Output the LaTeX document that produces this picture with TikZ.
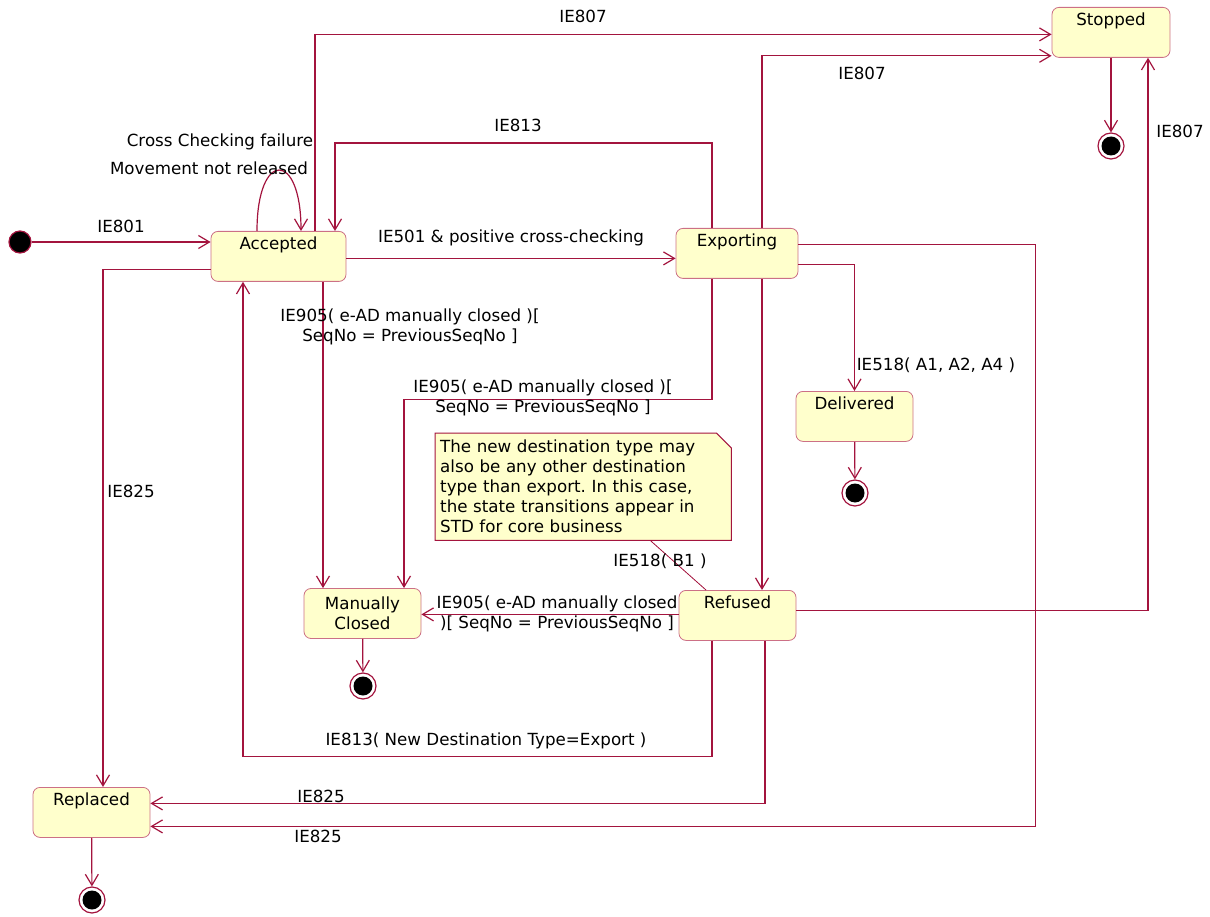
\documentclass[tikz,border=0pt]{standalone}
\usepackage{fontspec}
\setmainfont{DejaVu Sans}
\usepackage{xcolor}
\usetikzlibrary{arrows.meta,positioning,backgrounds}
\definecolor{umlred}{RGB}{163,20,62}
\definecolor{umlfill}{RGB}{255,255,204}
\definecolor{umlbd}{RGB}{204,112,134}
\frenchspacing
\begin{document}
\begin{tikzpicture}[x=1pt,y=-1pt, every node/.style={font=\fontsize{16.7}{20}\selectfont}, stbox/.style={draw=umlbd,fill=umlfill,rounded corners=7pt,anchor=north,minimum width=117pt,text height=12.4pt,text depth=25.6pt,inner ysep=6pt,line width=0.8pt}, arr/.style={-{Straight Barb[length=11pt,width=13pt]},umlred,line width=1.2pt}, endst/.style={circle,draw=umlred,fill=white,line width=1.2pt,minimum size=26pt,inner sep=0pt,path picture={\fill[black] (path picture bounding box.center) circle (9.5pt);}}, lbl/.style={inner sep=1pt}]
\useasboundingbox (0,0) rectangle (1210,917);
% states
\node[circle,fill=black,draw=umlred,line width=1.2pt,minimum size=22pt,inner sep=0pt] (init) at (20,242) {};
\node[stbox,minimum width=135pt] (acc) at (278.5,231) {Accepted};
\node[stbox,minimum width=122pt] (exp) at (737,228) {Exporting};
\node[stbox,minimum width=118pt] (stop) at (1111,7) {Stopped};
\node[stbox] (deliv) at (854.5,391) {Delivered};
\node[stbox,anchor=center,text height=,text depth=,minimum height=50pt,align=center] (mc) at (362.5,613.5) {Manually\\Closed};
\node[stbox] (ref) at (737.5,590) {Refused};
\node[stbox] (repl) at (91.5,787) {Replaced};
\node[endst] (fin1) at (1111,146) {}; \node[endst] (fin2) at (855,493) {}; \node[endst] (fin3) at (363,686) {}; \node[endst] (fin4) at (92,900) {};
% note
\node[anchor=north west,text width=286pt,align=left,inner xsep=5pt,inner ysep=4pt,minimum height=107pt] (note) at (435,433) {The new destination type may\\also be any other destination\\type than export. In this case,\\the state transitions appear in\\STD for core business};
\begin{scope}[on background layer]
\draw[umlred,fill=umlfill,line width=1pt] (note.north west) -- ([xshift=-15pt]note.north east) -- ([yshift=-15pt]note.north east) -- (note.south east) -- (note.south west) -- cycle;
\end{scope}
\draw[umlred,line width=0.8pt] ([xshift=67pt]note.south) -- ([xshift=-31.5pt]ref.north);
% transitions
\draw[arr] (init) -- (init -| acc.west);
\draw[arr] ([xshift=-21.5pt]acc.north) .. controls +(0,-81) and +(0,-81) .. ([xshift=22.5pt]acc.north);
\draw[arr] ([xshift=36.5pt]acc.north) |- ([yshift=-2pt]stop.west);
\draw[arr] ([xshift=25pt]exp.north) |- ([yshift=2pt]stop.south west);
\draw[arr] ([xshift=-25pt]exp.north) -- ++(0,-85) -| ([xshift=56.5pt]acc.north);
\draw[arr] ([yshift=-2pt]acc.east) -- ([yshift=-2pt]acc.east -| exp.west);
\draw[arr] ([yshift=9pt]exp.east) -- ++(237,0) |- ([yshift=-14pt]repl.east);
\draw[arr] ([yshift=-11pt]exp.east) -| (deliv.north);
\draw[arr] ([xshift=-25pt]exp.south) -- ++(0,121) -| ([xshift=41.5pt]mc.north);
\draw[arr] ([xshift=44.5pt]acc.south) -- ([xshift=44.5pt]acc.south |- mc.north);
\draw[arr] ([xshift=25pt]exp.south) -- ([xshift=25pt]exp.south |- ref.north);
\draw[arr] ([yshift=1pt]ref.west) -- ([yshift=1pt]ref.west -| mc.east);
\draw[arr] ([yshift=5pt]ref.east) -| ([xshift=37pt]stop.south);
\draw[arr] ([xshift=-25.5pt]ref.south) -- ++(0,116) -| ([xshift=-35.5pt]acc.south);
\draw[arr] ([xshift=27.5pt]ref.south) |- ([yshift=9pt]repl.east);
\draw[arr] ([yshift=-13pt]acc.west) -| ([xshift=11.5pt]repl.north);
\draw[arr] (stop) -- (fin1); \draw[arr] (deliv) -- (fin2); \draw[arr] (mc) -- (fin3); \draw[arr] (repl) -- (fin4);
% labels
\node[lbl] (l801) at (121,226) {IE801};
\node[lbl] (lcc) at (220,142) {Cross Checking failure};
\node[lbl] (lmn) at (209,168) {Movement not released};
\node[lbl] (l807a) at (583,16) {IE807};
\node[lbl] (l807b) at (862,73) {IE807};
\node[lbl] (l807c) at (1180,131) {IE807};
\node[lbl] (l813a) at (518,125) {IE813};
\node[lbl] (l501) at (511,238) {IE501 \& positive cross-checking};
\node[lbl,align=center] (l905a) at (410,327) {IE905( e-AD manually closed )[\\SeqNo = PreviousSeqNo ]};
\node[lbl,align=center] (l905b) at (543,398) {IE905( e-AD manually closed )[\\SeqNo = PreviousSeqNo ]};
\node[lbl] (l518a) at (936,365) {IE518( A1, A2, A4 )};
\node[lbl] (l825a) at (131,491) {IE825};
\node[lbl] (l518b) at (660,561) {IE518( B1 )};
\node[lbl,align=center] (l905c) at (557,614) {IE905( e-AD manually closed\\)[ SeqNo = PreviousSeqNo ]};
\node[lbl] (l813b) at (486,741) {IE813( New Destination Type=Export )};
\node[lbl] (l825b) at (321,796) {IE825};
\node[lbl] (l825c) at (318,836) {IE825};
\end{tikzpicture}
\end{document}
